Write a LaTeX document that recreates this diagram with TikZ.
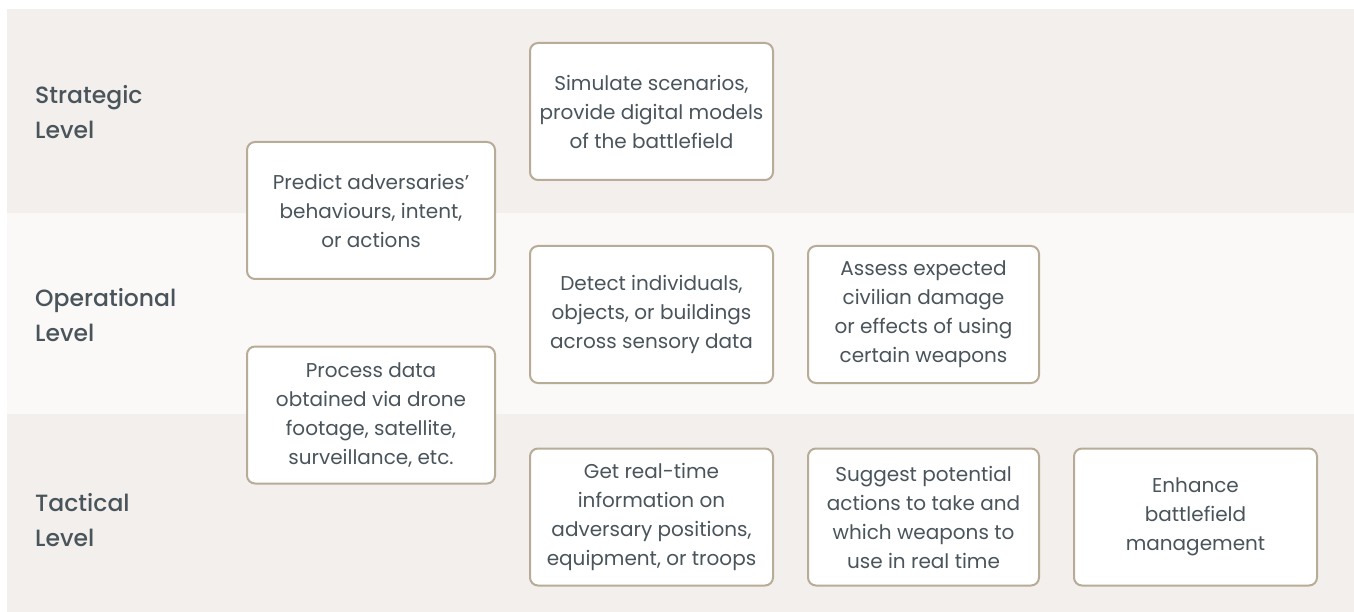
\documentclass[tikz,border=0pt]{standalone}
\usepackage{fontspec}
\setmainfont{Poppins}
\newfontfamily\levelfont{Poppins Medium}
\usepackage{xcolor}
\usetikzlibrary{positioning}

\definecolor{bandDark}{RGB}{242,239,236}
\definecolor{bandLight}{RGB}{250,249,247}
\definecolor{boxLine}{RGB}{184,172,152}
\definecolor{inkGrey}{RGB}{74,84,91}

\begin{document}
\begin{tikzpicture}[x=1pt,y=-1pt,
	levelname/.style={anchor=west,align=left,text=inkGrey,inner sep=0pt,
		font=\levelfont\fontsize{23.5}{35}\selectfont},
	usebox/.style={draw=boxLine,line width=2pt,fill=white,rounded corners=8pt,
		align=center,text=inkGrey,minimum height=137pt,inner sep=0pt,
		font=\fontsize{20}{29}\selectfont}]
	% canvas and the three bands
	\useasboundingbox (0,0) rectangle (1354,612);
	\fill[white] (0,0) rectangle (1354,612);
	\fill[bandDark] (7,9) rectangle (1354,213);
	\fill[bandLight] (7,213) rectangle (1354,414);
	\fill[bandDark] (7,414) rectangle (1354,612);
	
	% level names
	\node[levelname] (strat) at (35,112) {Strategic\\Level};
	\node[levelname] (oper) at (35,315) {Operational\\Level};
	\node[levelname] (tact) at (35,520) {Tactical\\Level};
	
	% uses of the technology
	\node[usebox,minimum width=248pt] (predict) at (371,210.5)
		{Predict adversaries'\\behaviours, intent,\\or actions};
	\node[usebox,minimum width=243pt] (simulate) at (651.5,111.5)
		{Simulate scenarios,\\provide digital models\\of the battlefield};
	\node[usebox,minimum width=243pt] (detect) at (651.5,314.5)
		{Detect individuals,\\objects, or buildings\\across sensory data};
	\node[usebox,minimum width=231pt] (assess) at (923.5,314.5)
		{Assess expected\\civilian damage\\or effects of using\\certain weapons};
	\node[usebox,minimum width=248pt] (process) at (371,415)
		{Process data\\obtained via drone\\footage, satellite,\\surveillance, etc.};
	\node[usebox,minimum width=243pt] (getinfo) at (651.5,517)
		{Get real-time\\information on\\adversary positions,\\equipment, or troops};
	\node[usebox,minimum width=231pt] (suggest) at (923.5,517)
		{Suggest potential\\actions to take and\\which weapons to\\use in real time};
	\node[usebox,minimum width=243pt] (enhance) at (1195.5,517)
		{Enhance\\battlefield\\management};
\end{tikzpicture}
\end{document}
